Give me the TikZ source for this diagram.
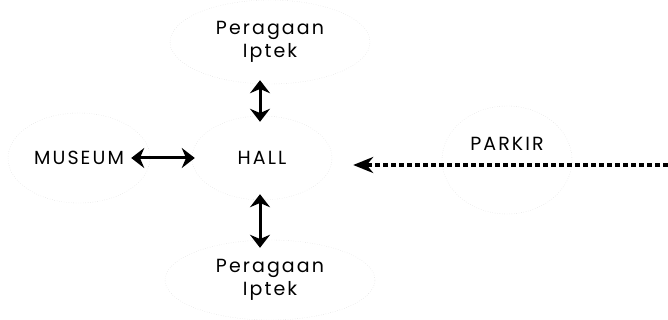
\documentclass[tikz,border=0pt]{standalone}
\usepackage{fontspec}
\setmainfont[LetterSpace=11]{Poppins}
\usetikzlibrary{shapes.geometric, arrows.meta}
\tikzstyle{every node}=[font=\fontsize{19}{23}\selectfont, align=center]
\tikzstyle{area}=[ellipse, draw=gray!35, dotted, thin, inner sep=0pt]
\tikzstyle{link}=[line width=3pt, {Stealth[length=13pt,width=20pt]}-{Stealth[length=13pt,width=20pt]}]

\begin{document}
\begin{tikzpicture}[x=1pt, y=-1pt]
    \useasboundingbox (0,0) rectangle (668,320);
% Areas
    \node[area, minimum width=200, minimum height=84] (iptekatas) at (270,42) {Peragaan\\Iptek};
    \node[area, minimum width=140, minimum height=84] (hall) at (262,158) {HALL};
    \node[area, minimum width=142, minimum height=90] (museum) at (79,158) {MUSEUM};
    \node[area, minimum width=130, minimum height=108] (parkir) at (507,160) {PARKIR\\[10pt]\mbox{}};
    \node[area, minimum width=210, minimum height=80] (iptekbawah) at (270,280) {Peragaan\\Iptek};
    \coordinate (masuk) at (668,165);
% Paths
    \draw[link, shorten <=-4pt, shorten >=-6pt] ([xshift=-10]iptekatas.south) -- ([xshift=-2]hall.north);
    \draw[link, shorten <=-6pt, shorten >=-8pt] ([xshift=-2]hall.south) -- ([xshift=-10]iptekbawah.north);
    \draw[link, shorten <=-19pt, shorten >=-3pt] (museum.east) -- (hall.west);
    \draw[line width=3.2pt, dash pattern=on 5pt off 3pt, -{Stealth[length=20pt,width=16pt]}]
        (masuk) -- ([yshift=-7, xshift=21]hall.east);
\end{tikzpicture}
\end{document}
